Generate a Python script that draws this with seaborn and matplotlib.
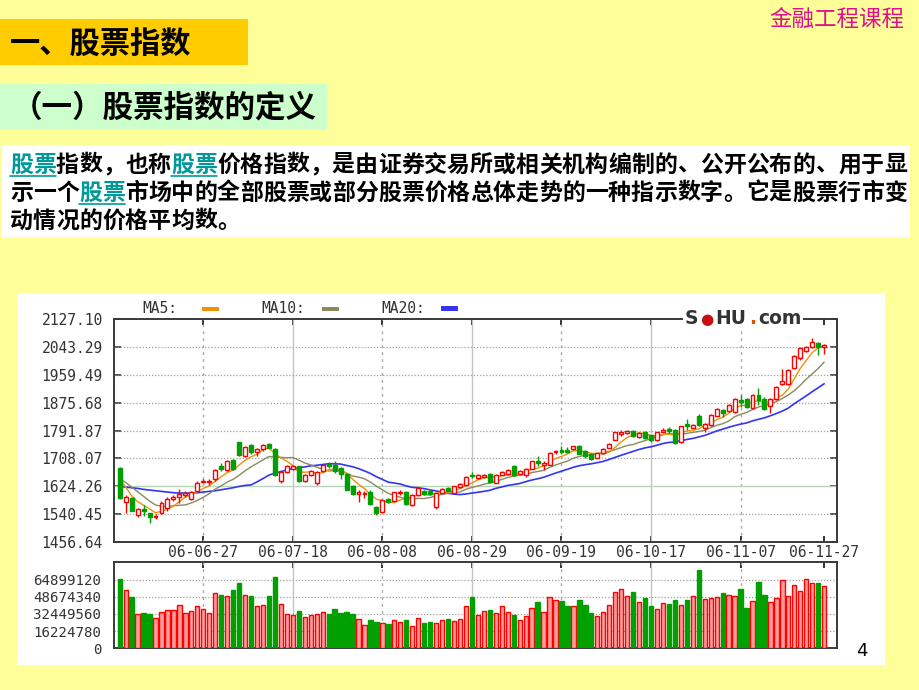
import numpy as np
import pandas as pd
import matplotlib
matplotlib.use("Agg")
import matplotlib.pyplot as plt
import seaborn as sns
from matplotlib.patches import Rectangle
from matplotlib.lines import Line2D
from matplotlib.offsetbox import TextArea, HPacker, AnnotationBbox

# ---------------- data ----------------
date_ticks = [14, 29, 44, 59, 74, 89, 104, 118]
date_labels = ["06-06-27", "06-07-18", "06-08-08", "06-08-29",
               "06-09-19", "06-10-17", "06-11-07", "06-11-27"]

opens = [1679,1577,1589,1539,1557,1543,1531,1543,1559,1585,
         1593,1599,1587,1609,1637,1637,1645,1685,1673,1703,
         1757,1715,1749,1729,1737,1751,1737,1639,1667,1677,
         1684,1641,1657,1633,1670,1690,1688,1678,1661,1625,
         1601,1600,1608,1563,1548,1586,1580,1603,1607,1567,
         1597,1611,1610,1562,1605,1619,1605,1622,1627,1658,
         1649,1653,1661,1635,1659,1661,1685,1661,1657,1677,
         1699,1687,1689,1727,1735,1735,1737,1747,1731,1723,
         1711,1725,1741,1765,1783,1785,1792,1773,1788,1778,
         1763,1789,1797,1793,1757,1813,1801,1837,1799,1809,
         1837,1855,1851,1849,1885,1887,1859,1899,1888,1867,
         1887,1932,1933,1980,2010,2033,2043,2057,2043]
highs = [1681,1597,1591,1559,1569,1545,1540,1579,1591,1597,
         1617,1609,1611,1639,1645,1645,1677,1693,1703,1707,
         1759,1747,1751,1741,1751,1755,1741,1671,1689,1689,
         1686,1661,1673,1670,1691,1698,1700,1681,1663,1627,
         1613,1611,1612,1566,1584,1589,1608,1612,1610,1600,
         1621,1614,1614,1605,1620,1623,1626,1633,1655,1668,
         1660,1662,1664,1661,1669,1675,1688,1673,1678,1702,
         1717,1699,1727,1735,1745,1742,1747,1749,1733,1726,
         1727,1741,1756,1789,1793,1793,1794,1789,1791,1780,
         1789,1799,1803,1796,1807,1827,1813,1843,1815,1841,
         1859,1857,1871,1889,1899,1889,1901,1921,1892,1890,
         1925,1977,1976,2020,2043,2048,2070,2060,2053]
lows = [1587,1545,1549,1533,1535,1515,1526,1541,1551,1581,
        1573,1591,1583,1607,1633,1629,1641,1671,1669,1673,
        1715,1713,1723,1715,1731,1739,1655,1635,1663,1673,
        1636,1637,1655,1627,1668,1680,1664,1646,1612,1597,
        1577,1589,1569,1538,1546,1575,1578,1598,1568,1565,
        1594,1598,1598,1556,1603,1609,1603,1620,1625,1649,
        1647,1650,1634,1633,1657,1659,1655,1659,1653,1675,
        1685,1673,1687,1723,1721,1725,1735,1721,1711,1704,
        1709,1723,1739,1763,1775,1781,1773,1771,1768,1759,
        1761,1787,1785,1751,1755,1795,1799,1805,1789,1807,
        1835,1833,1849,1845,1863,1861,1857,1869,1853,1845,
        1884,1930,1930,1977,2004,2030,2040,2020,2023]
closes = [1589,1593,1551,1555,1549,1533,1535,1575,1587,1593,
          1601,1605,1607,1635,1641,1641,1673,1675,1699,1677,
          1719,1743,1727,1737,1749,1741,1657,1667,1685,1685,
          1640,1657,1671,1668,1688,1686,1670,1660,1614,1600,
          1607,1605,1571,1544,1582,1577,1606,1607,1570,1598,
          1618,1602,1600,1603,1617,1611,1624,1630,1652,1654,
          1657,1659,1636,1659,1667,1673,1657,1671,1675,1699,
          1693,1693,1725,1731,1729,1728,1745,1723,1715,1707,
          1725,1737,1753,1787,1789,1790,1776,1786,1770,1764,
          1787,1795,1791,1756,1805,1806,1808,1810,1811,1839,
          1857,1845,1869,1887,1877,1863,1899,1883,1858,1888,
          1923,1942,1973,2017,2040,2045,2060,2045,2051]
# volume in millions of shares
volumes_m = [65.8,54.8,48.2,32.0,33.4,32.4,29.0,34.3,36.2,36.2,
             40.4,33.4,35.3,39.6,36.8,33.4,52.2,50.5,49.0,55.0,
             61.2,50.5,49.6,39.8,40.6,49.6,67.7,42.1,32.6,31.8,
             35.3,29.3,31.0,32.0,34.3,32.0,37.1,33.7,34.3,32.3,
             28.1,21.8,26.3,24.6,23.5,22.8,27.1,24.6,26.3,20.9,
             29.0,23.8,24.6,23.5,27.1,28.0,25.5,28.1,39.6,48.6,
             31.8,34.9,36.2,33.4,40.2,34.3,31.8,27.1,30.9,38.1,
             43.4,34.3,48.0,45.2,44.3,39.6,39.6,45.2,40.6,33.4,
             30.0,34.3,41.2,53.4,56.2,49.6,53.4,43.4,47.1,39.6,
             37.1,42.4,41.5,45.2,40.6,45.2,49.6,74.3,46.2,47.1,
             48.7,52.4,50.5,49.6,55.5,38.1,44.3,63.0,50.5,43.4,
             47.1,64.0,49.6,59.6,54.3,64.9,61.2,61.2,58.7]

ma5_head = [1645, 1622, 1596, 1578]
ma10_head = [1647, 1636, 1622, 1608, 1594, 1580, 1568, 1564, 1563]
ma20_head = [1624, 1622, 1620, 1618, 1615, 1613, 1611, 1609, 1607, 1605, 1604,
             1604, 1604, 1605, 1607, 1609, 1611, 1614, 1617, 1620, 1624, 1627]

price_ticks = [1456.64, 1540.45, 1624.26, 1708.07, 1791.87, 1875.68, 1959.49, 2043.29, 2127.10]
price_labels = ["1456.64", "1540.45", "1624.26", "1708.07", "1791.87",
                "1875.68", "1959.49", "2043.29", "2127.10"]
vol_ticks_m = [0, 16.22478, 32.44956, 48.67434, 64.89912]
vol_labels = ["0", "16224780", "32449560", "48674340", "64899120"]

para_lines = ["股票指数，也称股票价格指数，是由证券交易所或相关机构编制的、公开公布的、用于显",
              "示一个股票市场中的全部股票或部分股票价格总体走势的一种指示数字。它是股票行市变",
              "动情况的价格平均数。"]
link_spans = [(0, 0), (0, 7), (1, 3)]

# ---------------- derived table ----------------
df = pd.DataFrame({"i": np.arange(len(closes)), "open": opens, "high": highs,
                   "low": lows, "close": closes, "vol": volumes_m})
df["up"] = df["close"] >= df["open"]
ma5 = df["close"].rolling(5).mean().to_numpy()
ma5[:len(ma5_head)] = ma5_head
ma10 = df["close"].rolling(10).mean().to_numpy()
ma10[:len(ma10_head)] = ma10_head
ma20 = df["close"].rolling(20).mean().to_numpy()
ma20[:len(ma20_head)] = ma20_head
df["ma5"], df["ma10"], df["ma20"] = ma5, ma10, ma20

# ---------------- style ----------------
sns.set_style("white")
plt.rcParams["font.family"] = ["Noto Sans CJK SC", "DejaVu Sans"]
MONO = "DejaVu Sans Mono"
W, H = 920, 690
RED, GREEN = "#FF0000", "#00A000"
C5, C10, C20 = "#F0900A", "#8A8A5E", "#3434F4"

fig = plt.figure(figsize=(9.2, 6.9), dpi=100)
fig.patch.set_facecolor("#FFFF99")


def fx(x):
    return x / W


def fy(y):
    return 1 - y / H


def rect(x0, y0, x1, y1, color, z=-1):
    fig.add_artist(Rectangle((fx(x0), fy(y1)), (x1 - x0) / W, (y1 - y0) / H,
                             transform=fig.transFigure, facecolor=color,
                             edgecolor="none", zorder=z))


# slide boxes
rect(0, 19, 248, 65, "#FFCC00")
rect(0, 84, 327, 130, "#CCFFCC")
rect(2, 145, 910, 237, "white")
rect(17, 293, 885, 665, "white")

fig.text(fx(904), fy(20), "金融工程课程", ha="right", va="center",
         fontsize=16.2, color="#E0108C")
fig.text(fx(10), fy(44), "一、股票指数", ha="left", va="center",
         fontsize=21.8, fontweight="bold", color="black")
fig.text(fx(12), fy(108), "（一）股票指数的定义", ha="left", va="center",
         fontsize=22, fontweight="bold", color="black")

CW = 23.0
line_y = [165, 193, 221]
for li, line in enumerate(para_lines):
    link_idx = set()
    for (ll, s) in link_spans:
        if ll == li:
            link_idx.update([s, s + 1])
            fig.add_artist(Line2D([fx(10 + s * CW), fx(10 + (s + 2) * CW)],
                                  [fy(line_y[li] + 11), fy(line_y[li] + 11)],
                                  transform=fig.transFigure, color="#009999", lw=1.2))
    for k, ch in enumerate(line):
        fig.text(fx(10 + k * CW), fy(line_y[li]), ch, ha="left", va="center",
                 fontsize=16.5, fontweight="bold",
                 color="#009999" if k in link_idx else "black")

fig.text(fx(862), fy(651), "4", ha="center", va="center", fontsize=13,
         family="DejaVu Sans", color="black")

# ---------------- price axes ----------------
XL = (-0.955, 120.15)
ax = fig.add_axes([fx(114), fy(542), (837 - 114) / W, (542 - 319.3) / H])
axv = fig.add_axes([fx(114), fy(648.3), (837 - 114) / W, (648.3 - 562.3) / H])

for a in (ax, axv):
    a.set_facecolor("white")
    a.set_xlim(*XL)
    for s in a.spines.values():
        s.set_color("#3a3a3a")
        s.set_linewidth(1.4)
    for t in date_ticks[:-1]:
        if t in (29, 59, 89):
            a.axvline(t, color="#C4C4C4", lw=1.0, zorder=1)
        else:
            a.axvline(t, color="#A8A8A8", lw=1.0, ls=(0, (2, 3)), zorder=1)

ax.set_ylim(price_ticks[0], price_ticks[-1])
for t in price_ticks[1:-1]:
    if abs(t - 1624.26) < 0.01:
        ax.axhline(t, color="#B8D4B8", lw=1.0, zorder=1)
    else:
        ax.axhline(t, color="#A0A0A0", lw=0.9, ls=(0, (1, 1.5)), zorder=1)

# wicks
wick_col = np.where(df["up"], RED, GREEN)
ax.vlines(df["i"], df["low"], df["high"], colors=wick_col, lw=1.0, zorder=3)
# MA lines
sns.lineplot(data=df, x="i", y="ma20", ax=ax, color=C20, lw=1.2, zorder=2.5)
sns.lineplot(data=df, x="i", y="ma10", ax=ax, color=C10, lw=1.0, zorder=2.6)
sns.lineplot(data=df, x="i", y="ma5", ax=ax, color=C5, lw=1.0, zorder=2.7)
# bodies
body_bottom = np.minimum(df["open"], df["close"])
body_h = np.maximum(np.abs(df["close"] - df["open"]), 1.5)
face = np.where(df["up"], "white", GREEN)
ax.bar(df["i"], body_h, bottom=body_bottom, width=0.66, color=face,
       edgecolor=wick_col, linewidth=1.0, zorder=4)

ax.set_xticks(date_ticks)
ax.set_xticklabels(date_labels, family=MONO, fontsize=10.5, color="#333333")
ax.set_yticks(price_ticks)
ax.set_yticklabels(price_labels, family=MONO, fontsize=10.5, color="#333333")
ax.tick_params(axis="x", direction="in", length=4, width=1.4, top=True, bottom=True,
               pad=2, color="#333333")
ax.tick_params(axis="y", direction="in", length=5, width=1.2, left=True, right=True,
               pad=8, color="#333333")
ax.set_xlabel("")
ax.set_ylabel("")

# ---------------- volume axes ----------------
axv.set_ylim(0, 81.1239)
for t in vol_ticks_m[1:]:
    axv.axhline(t, color="#A0A0A0", lw=0.9, ls=(0, (1, 1.5)), zorder=1)
vface = np.where(df["up"], "#FF9C9C", GREEN)
axv.bar(df["i"], df["vol"], width=0.72, color=vface, edgecolor=wick_col,
        linewidth=1.0, zorder=3)
axv.set_xticks(date_ticks)
axv.set_xticklabels([])
axv.set_yticks(vol_ticks_m)
axv.set_yticklabels(vol_labels, family=MONO, fontsize=10.2, color="#333333")
axv.tick_params(axis="x", direction="in", length=4, width=1.4, top=True, bottom=False,
                color="#333333")
axv.tick_params(axis="y", direction="in", length=0, pad=9)
axv.set_xlabel("")
axv.set_ylabel("")

# ---------------- legend row ----------------
for label, x_t, x_s, col, hh in [("MA5:", 142.7, 201.7, C5, 4),
                                 ("MA10:", 261.7, 321.7, C10, 4),
                                 ("MA20:", 381.0, 441.0, C20, 5)]:
    fig.text(fx(x_t), fy(308.5), label, family=MONO, fontsize=10.5,
             color="#333333", ha="left", va="center")
    rect(x_s, 308.7 - hh / 2, x_s + 17, 308.7 + hh / 2, col, z=5)

# ---------------- logo ----------------
pieces = [("S", "#333333", 13.5), ("●", "#C81010", 11), ("HU", "#333333", 13.5),
          (".", "#E05000", 13.5), ("com", "#333333", 13.5)]
boxes = [TextArea(p, textprops=dict(color=c, fontsize=fs, fontweight="bold",
                                    family="DejaVu Sans")) for p, c, fs in pieces]
pack = HPacker(children=boxes, align="baseline", pad=0, sep=1.5)
ab = AnnotationBbox(pack, (fx(743), fy(318)), xycoords="figure fraction",
                    frameon=True, pad=0.15,
                    bboxprops=dict(facecolor="white", edgecolor="none"), zorder=10)
fig.add_artist(ab)

fig.savefig("out.png", dpi=100, facecolor=fig.get_facecolor())
